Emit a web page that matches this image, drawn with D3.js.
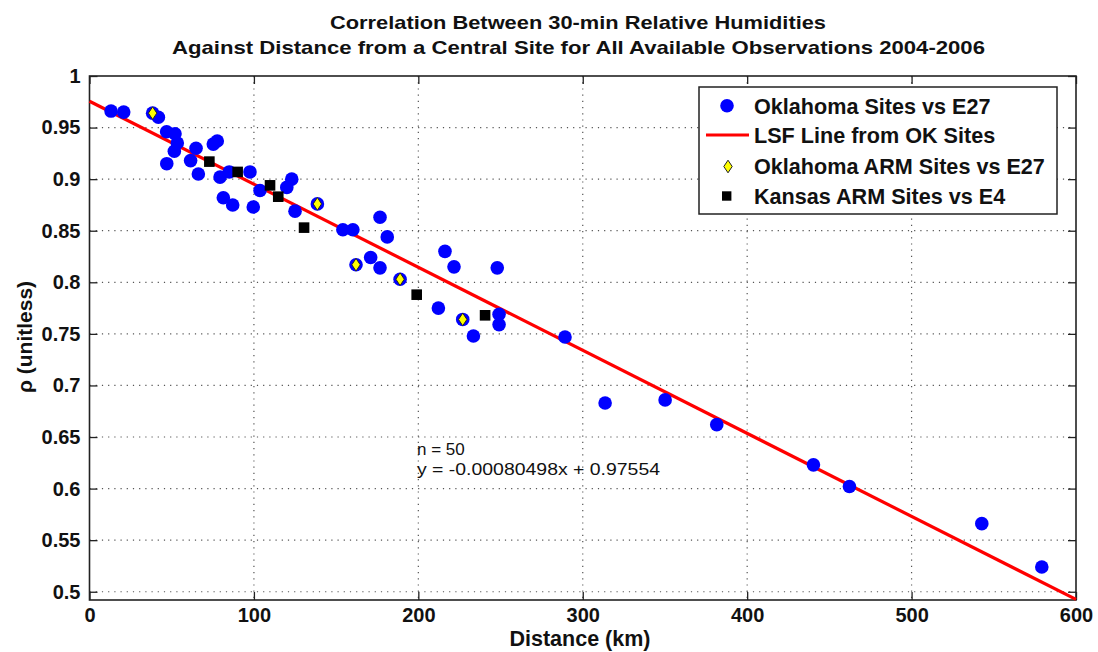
<!DOCTYPE html>
<html><head><meta charset="utf-8">
<script src="https://cdn.jsdelivr.net/npm/d3@7"></script>
<style>
html,body{margin:0;padding:0;background:#fff;}
svg text{font-family:"Liberation Sans",Arial,Helvetica,sans-serif;fill:#111;}
</style></head>
<body>
<svg id="c" width="1098" height="652"></svg>
<script>
// ---- data ----
const okDist = [13.1,20.8,38.4,41.9,46.9,52,53.4,51.6,47,64.8,61.5,66.2,75.3,77.7,79.4,85,97.6,81.4,87.1,99.6,103.7,120,123,125,138.6,154.1,160.2,162.1,176.7,181.1,171,176.7,188.9,212.2,216.2,221.7,248,227,249.1,249.1,233.5,289.2,313.6,350.1,381.5,440.3,462.2,542.7,579.2];
const okRho  = [0.966,0.965,0.964,0.960,0.946,0.944,0.935,0.927,0.915,0.930,0.918,0.905,0.934,0.937,0.902,0.907,0.907,0.882,0.875,0.873,0.889,0.892,0.900,0.869,0.876,0.851,0.851,0.817,0.863,0.844,0.824,0.814,0.803,0.775,0.830,0.815,0.814,0.764,0.769,0.759,0.748,0.747,0.683,0.686,0.662,0.623,0.602,0.566,0.524];
const armOkDist = [38.4,138.6,162.1,188.9,227];
const armOkRho  = [0.964,0.876,0.817,0.803,0.764];
const ksDist = [72.9,90.1,109.8,114.8,130.5,199,240.6];
const ksRho  = [0.917,0.907,0.894,0.883,0.853,0.788,0.768];
const slope = -0.00080498, intercept = 0.97554;
const xTicks = [0,100,200,300,400,500,600];
const yTicks = [0.5,0.55,0.6,0.65,0.7,0.75,0.8,0.85,0.9,0.95,1];
const legendLabels = ["Oklahoma Sites vs E27","LSF Line from OK Sites","Oklahoma ARM Sites vs E27","Kansas ARM Sites vs E4"];
const titleLines = ["Correlation Between 30-min Relative Humidities","Against Distance from a Central Site for All Available Observations 2004-2006"];

// ---- layout ----
const svg = d3.select("#c");
const L = 89.5, R = 1076, T = 76, B = 600;
const x = d3.scaleLinear().domain([0,600]).range([L,R]);
const y = d3.scaleLinear().domain([0.492,1]).range([B,T]);

// grid
const grid = svg.append("g");
grid.selectAll("line.gx").data(xTicks.slice(1,-1)).join("line")
  .attr("x1",d=>x(d)).attr("x2",d=>x(d)).attr("y1",T).attr("y2",B)
  .attr("stroke","#555").attr("stroke-width",1.2).attr("stroke-dasharray","1.2,5");
grid.selectAll("line.gy").data(yTicks.filter(v=>v<1)).join("line")
  .attr("x1",L).attr("x2",R).attr("y1",d=>y(d)).attr("y2",d=>y(d))
  .attr("stroke","#555").attr("stroke-width",1.2).attr("stroke-dasharray","1.2,5");

// axes
const fmtY = d=>String(+d.toFixed(2));
const axL = svg.append("g").attr("transform",`translate(${L},0)`)
  .call(d3.axisLeft(y).tickValues(yTicks).tickSize(-8).tickPadding(9).tickFormat(fmtY));
const axB = svg.append("g").attr("transform",`translate(0,${B})`)
  .call(d3.axisBottom(x).tickValues(xTicks).tickSize(-8).tickPadding(8).tickFormat(d3.format("d")));
const axR = svg.append("g").attr("transform",`translate(${R},0)`)
  .call(d3.axisRight(y).tickValues(yTicks).tickSize(-8).tickFormat(""));
const axT = svg.append("g").attr("transform",`translate(0,${T})`)
  .call(d3.axisTop(x).tickValues(xTicks).tickSize(-8).tickFormat(""));
[axL,axB,axR,axT].forEach(a=>{
  a.select(".domain").remove();
  a.selectAll(".tick line").attr("stroke","#222").attr("stroke-width",1.3);
  a.selectAll("text").attr("font-size",20).attr("font-weight","bold").attr("fill","#111")
   .style("font-family","'Liberation Sans',Arial,sans-serif");
});
svg.append("rect").attr("x",L).attr("y",T).attr("width",R-L).attr("height",B-T)
  .attr("fill","none").attr("stroke","#222").attr("stroke-width",1.6);

// fit line
const lineGen = d3.line().x(d=>x(d)).y(d=>y(slope*d+intercept));
svg.append("path").datum([0,600]).attr("d",lineGen)
  .attr("stroke","#ff0000").attr("stroke-width",3.2).attr("fill","none");

// points
const okData = okDist.map((d,i)=>({d, r:okRho[i]}));
svg.append("g").selectAll("circle").data(okData).join("circle")
  .attr("cx",p=>x(p.d)).attr("cy",p=>y(p.r)).attr("r",6.8).attr("fill","#0000ff");
const armData = armOkDist.map((d,i)=>({d, r:armOkRho[i]}));
const diamond = (cx,cy)=>`M${cx},${cy-6.3}L${cx+4.2},${cy}L${cx},${cy+6.3}L${cx-4.2},${cy}Z`;
svg.append("g").selectAll("path").data(armData).join("path")
  .attr("d",p=>diamond(x(p.d),y(p.r))).attr("fill","#ffff00").attr("stroke","#222").attr("stroke-width",1);
const ksData = ksDist.map((d,i)=>({d, r:ksRho[i]}));
svg.append("g").selectAll("rect").data(ksData).join("rect")
  .attr("x",p=>x(p.d)-5.3).attr("y",p=>y(p.r)-5.3).attr("width",10.6).attr("height",10.6).attr("fill","#000");

// annotation
svg.append("text").attr("x",417).attr("y",455).attr("font-size",17).text("n = 50");
svg.append("text").attr("x",417).attr("y",475).attr("font-size",17)
  .attr("textLength",243).attr("lengthAdjust","spacingAndGlyphs")
  .text(`y = ${slope}x + ${intercept}`);

// legend
const lg = svg.append("g");
lg.append("rect").attr("x",699).attr("y",87).attr("width",358).attr("height",127)
  .attr("fill","#fff").attr("stroke","#222").attr("stroke-width",1.5);
const ly = [105.7,135,166.5,196];
lg.append("circle").attr("cx",727).attr("cy",ly[0]).attr("r",6.8).attr("fill","#0000ff");
lg.append("line").attr("x1",706).attr("x2",749).attr("y1",ly[1]).attr("y2",ly[1]).attr("stroke","#ff0000").attr("stroke-width",3.2);
lg.append("path").attr("d",diamond(728,ly[2])).attr("fill","#ffff00").attr("stroke","#222").attr("stroke-width",1);
lg.append("rect").attr("x",722).attr("y",ly[3]-4.7).attr("width",9.4).attr("height",9.4).attr("fill","#000");
lg.selectAll("text").data(legendLabels).join("text")
  .attr("x",754).attr("y",(d,i)=>ly[i]+7.8).attr("font-size",21.6).attr("font-weight","bold").text(d=>d);

// titles
svg.append("text").attr("x",578).attr("y",29).attr("text-anchor","middle").attr("font-size",19)
  .attr("font-weight","bold").attr("textLength",496).attr("lengthAdjust","spacingAndGlyphs").text(titleLines[0]);
svg.append("text").attr("x",578.5).attr("y",54).attr("text-anchor","middle").attr("font-size",19)
  .attr("font-weight","bold").attr("textLength",813).attr("lengthAdjust","spacingAndGlyphs").text(titleLines[1]);

// axis labels
svg.append("text").attr("x",580).attr("y",646).attr("text-anchor","middle")
  .attr("font-size",21.5).attr("font-weight","bold").text("Distance (km)");
svg.append("text").attr("transform","translate(32,337) rotate(-90)").attr("text-anchor","middle")
  .attr("font-size",21).attr("font-weight","bold").text("ρ (unitless)");
</script>
</body></html>
